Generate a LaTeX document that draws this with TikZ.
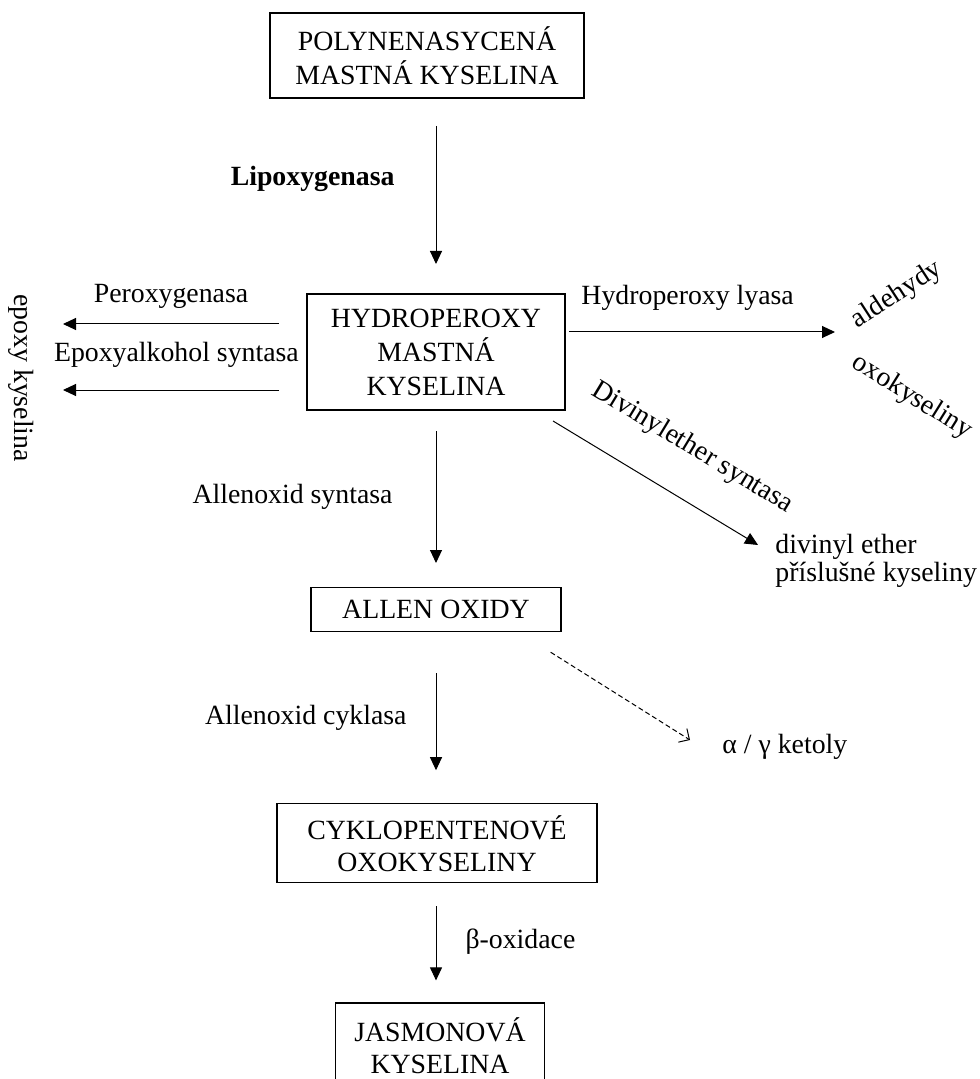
\documentclass[tikz,border=0pt]{standalone}
\usepackage{fontspec}
\setmainfont{Liberation Serif}
\usetikzlibrary{arrows.meta,positioning,calc}

\begin{document}
\begin{tikzpicture}[x=0.5pt,y=-0.5pt,
krabice/.style={draw,line width=1pt,align=center,inner sep=2pt,font=\fontsize{13.9}{17}\selectfont},
tenka/.style={draw,line width=0.6pt,align=center,inner sep=2pt,font=\fontsize{13.9}{16}\selectfont},
sipka/.style={-{Triangle[length=6.5pt,width=6pt]},line width=0.5pt},
tecky/.style={-{Straight Barb[length=4pt,width=8pt]},line width=0.5pt,dash pattern=on 2.5pt off 1.5pt},
popis/.style={font=\fontsize{13.9}{14}\selectfont,inner sep=1pt}
]
\useasboundingbox (0,0) rectangle (979,1079);

\node[krabice,minimum width=157pt,minimum height=42.5pt] (polyn) at (427,55.5) {POLYNENASYCENÁ\\MASTNÁ KYSELINA};
\node[krabice,minimum width=129pt,minimum height=58pt,below=97pt of polyn,xshift=4.5pt] (hydro) {HYDROPEROXY\\MASTNÁ\\KYSELINA};
\node[tenka,minimum width=125pt,minimum height=22pt,below=88pt of hydro] (allen) {ALLEN OXIDY};
\node[tenka,minimum width=160pt,minimum height=39.5pt,below=85.5pt of allen,xshift=0.5pt] (cyklo) {CYKLOPENTENOVÉ\\OXOKYSELINY};
\node[tenka,minimum width=104.5pt,minimum height=43pt,below=59.5pt of cyklo,xshift=1.5pt] (jasm) {JASMONOVÁ\\KYSELINA};

% produkty po stranach
\node[popis,rotate=-90] (epoxy) at (21,378) {epoxy kyselina};
\node[popis,rotate=33] (ald) at (897,295) {aldehydy};
\node[popis,rotate=-32] (oxo) at (912,397) {oxokyseliny};
\node[popis,anchor=west,align=left] (divin) at (773,561) {divinyl ether\\příslušné kyseliny};
\node[popis,anchor=west] (ketol) at (720,747) {α / γ ketoly};

% hlavni cesta
\draw[sipka] ([yshift=-13.5pt]polyn.south -| hydro.north) -- ([yshift=14.5pt]hydro.north) node[popis,pos=0.38,left=19.5pt] {\bfseries Lipoxygenasa};
\draw[sipka] ([yshift=-10pt]hydro.south) -- ([yshift=12pt]allen.north) node[popis,midway,left=20.5pt] {Allenoxid syntasa};
\draw[sipka] ([yshift=-20.5pt]allen.south) -- ([yshift=16.5pt]cyklo.north -| allen.south) node[popis,pos=0.46,left=13.5pt] {Allenoxid cyklasa};
\draw[sipka] ([yshift=-11.5pt]cyklo.south -| allen.south) -- ([yshift=11pt]jasm.north -| allen.south) node[popis,pos=0.47,right=13.5pt] {β-oxidace};

% vedlejsi cesty
\draw[sipka] ([shift={(-27,-28)}]hydro.west) -- ([shift={(42,-28)}]hydro.west -| epoxy.center) node[popis,midway,above=6.5pt] {Peroxygenasa};
\draw[sipka] ([shift={(-27,38)}]hydro.west) -- ([shift={(42,38)}]hydro.west -| epoxy.center) node[popis,pos=0.475,above=10pt] {Epoxyalkohol syntasa};
\draw[sipka] ([shift={(3,-20)}]hydro.east) -- ([shift={(-62,-20)}]hydro.east -| ald.center) node[popis,pos=0.446,above=9.5pt] {Hydroperoxy lyasa};
\draw[sipka] ([shift={(-13,10)}]hydro.south east) -- ([shift={(-15,-16)}]divin.west) node[popis,sloped,pos=0.555,above=17pt] {Divinylether syntasa};
\draw[tecky] ([shift={(-11,20)}]allen.south east) -- ([shift={(-30,-7)}]ketol.west);
\end{tikzpicture}
\end{document}
